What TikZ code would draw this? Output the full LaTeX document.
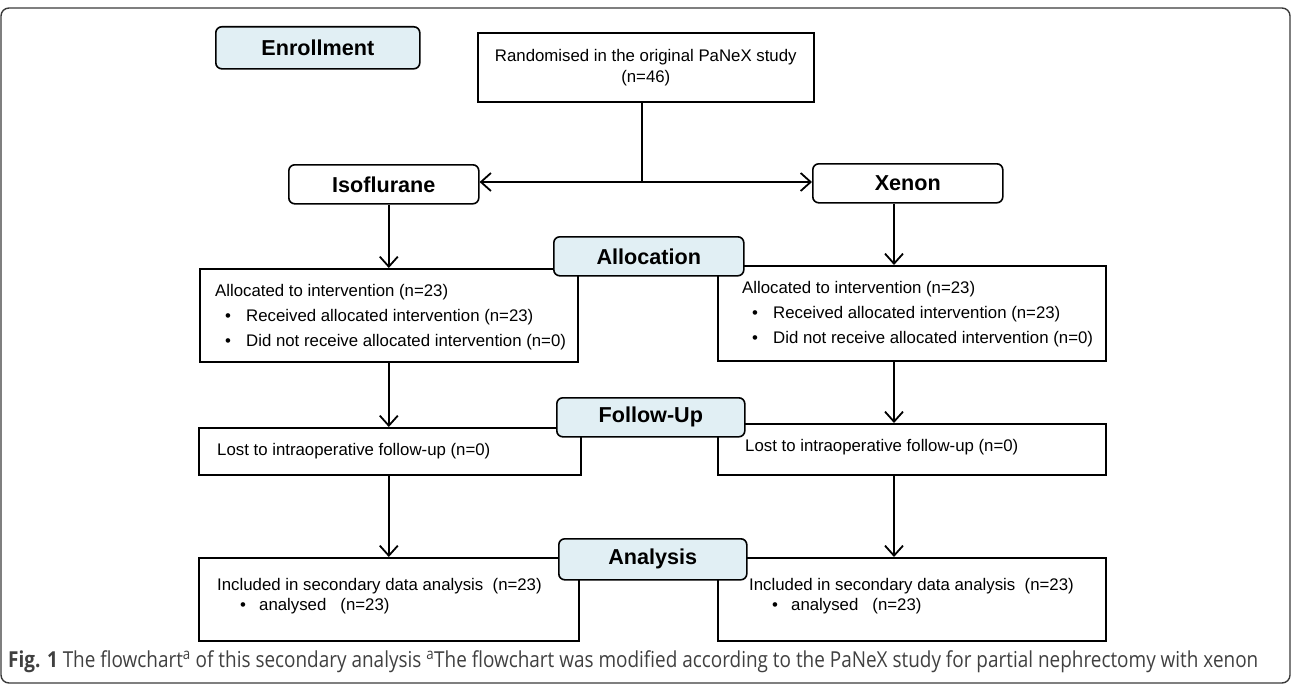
\documentclass[tikz,border=0pt]{standalone}
\usepackage{fontspec}
\setmainfont{Liberation Sans}
\newfontfamily\capfont{Open Sans}
\usepackage{graphicx}
\usetikzlibrary{arrows.meta,positioning}

\definecolor{phasebg}{HTML}{E1EFF4}
\definecolor{framegray}{HTML}{3A3A3A}
\newcommand{\blt}{\makebox[31pt][l]{\hspace{10pt}\textbullet}}

\begin{document}
\begin{tikzpicture}[x=1pt, y=-1pt,
    every node/.style={font=\fontsize{16.8pt}{25pt}\selectfont, inner sep=0pt},
    phase/.style={draw, line width=1.6pt, rounded corners=6pt, fill=phasebg, anchor=north west,
      font=\fontsize{21.6pt}{26pt}\selectfont\bfseries},
    arm/.style={phase, fill=white},
    infobox/.style={draw, line width=1.6pt, anchor=north west},
    arr/.style={line width=1.8pt, -{Straight Barb[length=10pt,width=18pt]}}]
    \useasboundingbox (0,0) rectangle (1292,685);
    \draw[framegray, line width=1.4pt, rounded corners=8pt] (1,8) rectangle (1290,683);

    % Randomisation
    \node[infobox, minimum width=336pt, minimum height=69pt] (rand) at (477,32) {};
    \node[align=center, font=\fontsize{16.8pt}{21pt}\selectfont] (randtxt) at (rand.center) {Randomised in the original PaNeX study\\(n=46)};

    \node[arm, minimum width=190pt, minimum height=39pt] (iso) at (288,164) {Isoflurane};
    \node[arm, minimum width=190pt, minimum height=39pt] (xen) at (812,163) {Xenon};

    \coordinate (split) at (642,182);
    \coordinate (rcol) at (894,0);
    \draw[line width=1.8pt] (rand.south -| split) -- (split);
    \draw[arr] (split) -- (split -| iso.east);
    \draw[arr] (split) -- (split -| xen.west);

    % Allocation
    \node[infobox, minimum width=378pt, minimum height=93pt] (allocL) at (199,268) {};
    \node[anchor=west, align=left] (allocLtxt) at ([xshift=16pt,yshift=-2pt]allocL.west)
      {Allocated to intervention (n=23)\\\blt Received allocated intervention (n=23)\\\blt Did not receive allocated intervention (n=0)};
    \node[infobox, minimum width=388pt, minimum height=95pt] (allocR) at (717,265) {};
    \node[anchor=west, align=left] (allocRtxt) at ([xshift=25pt,yshift=-1pt]allocR.west)
      {Allocated to intervention (n=23)\\\blt Received allocated intervention (n=23)\\\blt Did not receive allocated intervention (n=0)};

    % Follow-up
    \node[infobox, minimum width=382pt, minimum height=47pt] (followL) at (198,427) {};
    \node[anchor=west] (followLtxt) at ([xshift=19pt]followL.west) {Lost to intraoperative follow-up (n=0)};
    \node[infobox, minimum width=388pt, minimum height=51pt] (followR) at (717,423) {};
    \node[anchor=west] (followRtxt) at ([xshift=28pt,yshift=2pt]followR.west) {Lost to intraoperative follow-up (n=0)};

    % Analysis
    \node[infobox, minimum width=380pt, minimum height=83pt] (anaL) at (198,557) {};
    \node[anchor=west, align=left, font=\fontsize{16.8pt}{20pt}\selectfont] (anaLtxt) at ([xshift=19pt,yshift=3pt]anaL.west)
      {Included in secondary data analysis\ \ (n=23)\\\makebox[42pt][l]{\hspace{23pt}\textbullet}analysed\hspace{14pt}(n=23)};
    \node[infobox, minimum width=388pt, minimum height=83pt] (anaR) at (717,557) {};
    \node[anchor=west, align=left, font=\fontsize{16.8pt}{20pt}\selectfont] (anaRtxt) at ([xshift=32pt,yshift=3pt]anaR.west)
      {Included in secondary data analysis\ \ (n=23)\\\makebox[42pt][l]{\hspace{23pt}\textbullet}analysed\hspace{14pt}(n=23)};

    % Arrows down
    \draw[arr] (allocL.north |- iso.south) -- (allocL.north);
    \draw[arr] (xen.south -| rcol) -- (allocR.north -| rcol);
    \draw[arr] (allocL.south) -- (allocL.south |- followL.north);
    \draw[arr] (allocR.south -| rcol) -- (followR.north -| rcol);
    \draw[arr] (followL.south -| allocL.south) -- (anaL.north -| allocL.south);
    \draw[arr] (followR.south -| rcol) -- (anaR.north -| rcol);

    % Phase labels
    \node[phase, minimum width=204pt, minimum height=42pt] (enrol) at (215,26) {Enrollment};
    \node[phase, minimum width=190pt, minimum height=39pt] (alloc) at (553,236) {Allocation};
    \node[phase, minimum width=188pt, minimum height=39pt] (follow) at (556,397) {Follow-Up};
    \node[phase, minimum width=188pt, minimum height=41pt] (ana) at (558,538) {Analysis};

    % Caption
    \node[anchor=base west, text=black!75] (caption) at (8,667)
      {\capfont\fontsize{22pt}{26pt}\selectfont\resizebox{1250pt}{\height}{\textbf{Fig. 1} The flowchart\textsuperscript{a} of this secondary analysis \textsuperscript{a}The flowchart was modified according to the PaNeX study for partial nephrectomy with xenon}};
\end{tikzpicture}
\end{document}
